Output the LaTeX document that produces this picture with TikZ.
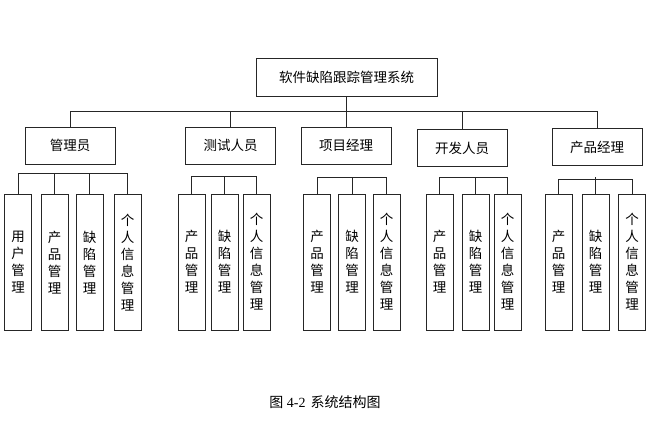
\documentclass[tikz,border=0pt]{standalone}
\usepackage{fontspec}
\setmainfont{Liberation Serif}
\newfontfamily\cjk{Noto Sans CJK SC}

\tikzset{
  sysbox/.style={draw=black!85, line width=0.9pt, minimum width=181pt, minimum height=38pt, inner sep=0pt, font=\cjk\fontsize{13.5}{16}\selectfont},
  rolebox/.style={draw=black!85, line width=0.9pt, minimum width=90pt, minimum height=37pt, inner sep=0pt, font=\cjk\fontsize{13.5}{16}\selectfont},
  leafbox/.style={draw=black!85, line width=0.9pt, minimum width=27pt, minimum height=136pt, inner sep=0pt, align=center, font=\cjk\fontsize{13.5}{17}\selectfont},
  wire/.style={draw=black!85, line width=0.9pt}
}

\begin{document}
\begin{tikzpicture}[x=1pt, y=-1pt]
  \useasboundingbox (0,0) rectangle (664,423);

  % Coordinates
  \coordinate (B0) at (0,111);
  \coordinate (B1) at (0,173);
  \coordinate (B2) at (0,176);
  \coordinate (B3) at (0,177);
  \coordinate (B4) at (0,177);
  \coordinate (B5) at (0,179);

  % Drawing
  \node[sysbox] (sys) at (346.5,77) {软件缺陷跟踪管理系统};

  \node[rolebox] (admin) at (70,145.5) {管理员};
  \node[rolebox] (tester) at (230.5,145.5) {测试人员};
  \node[rolebox] (pm) at (346,145.5) {项目经理};
  \node[rolebox] (dev) at (462,148) {开发人员};
  \node[rolebox] (prod) at (597,147) {产品经理};

  \node[leafbox] (admin1) at (18,262.5) {用\\户\\管\\理};
  \node[leafbox] (admin2) at (54.5,262.5) {产\\品\\管\\理};
  \node[leafbox] (admin3) at (89.5,262.5) {缺\\陷\\管\\理};
  \node[leafbox] (admin4) at (127.5,262.5) {个\\人\\信\\息\\管\\理};

  \node[leafbox] (tester1) at (191.5,262) {产\\品\\管\\理};
  \node[leafbox] (tester2) at (224.5,262) {缺\\陷\\管\\理};
  \node[leafbox] (tester3) at (256.5,262) {个\\人\\信\\息\\管\\理};

  \node[leafbox] (pm1) at (317,262) {产\\品\\管\\理};
  \node[leafbox] (pm2) at (352,262) {缺\\陷\\管\\理};
  \node[leafbox] (pm3) at (386.5,262) {个\\人\\信\\息\\管\\理};

  \node[leafbox] (dev1) at (439.5,262) {产\\品\\管\\理};
  \node[leafbox] (dev2) at (475.5,262) {缺\\陷\\管\\理};
  \node[leafbox] (dev3) at (507.5,262) {个\\人\\信\\息\\管\\理};

  \node[leafbox] (prod1) at (558.5,262) {产\\品\\管\\理};
  \node[leafbox] (prod2) at (595.5,262) {缺\\陷\\管\\理};
  \node[leafbox] (prod3) at (632,262) {个\\人\\信\\息\\管\\理};

  % top level
  \draw[wire] (sys.south) -- (sys.south |- B0);
  \draw[wire] (admin.north |- B0) -- (prod.north |- B0);
  \foreach \r in {admin,tester,pm,dev,prod}
    \draw[wire] (\r.north |- B0) -- (\r.north);

  % second level
  \draw[wire] (admin1.north |- B1) -- (admin4.north |- B1);
  \foreach \c in {admin1,admin2,admin3,admin4}
    \draw[wire] (\c.north |- B1) -- (\c.north);
  \draw[wire] (tester1.north |- B2) -- (tester3.north |- B2);
  \foreach \c in {tester1,tester2,tester3}
    \draw[wire] (\c.north |- B2) -- (\c.north);
  \draw[wire] (pm1.north |- B3) -- (pm3.north |- B3);
  \foreach \c in {pm1,pm2,pm3}
    \draw[wire] (\c.north |- B3) -- (\c.north);
  \draw[wire] (dev1.north |- B4) -- (dev3.north |- B4);
  \foreach \c in {dev1,dev2,dev3}
    \draw[wire] (\c.north |- B4) -- (\c.north);
  \draw[wire] (prod1.north |- B5) -- (prod3.north |- B5);
  \foreach \c in {prod1,prod3}
    \draw[wire] (\c.north |- B5) -- (\c.north);
  \draw[wire] (prod2.north |- B3) -- (prod2.north);

  \node[font=\fontsize{14}{16}\selectfont] (cap) at (325,402) {{\cjk 图} 4-2\hspace{5pt}{\cjk 系统结构图}};
\end{tikzpicture}
\end{document}
